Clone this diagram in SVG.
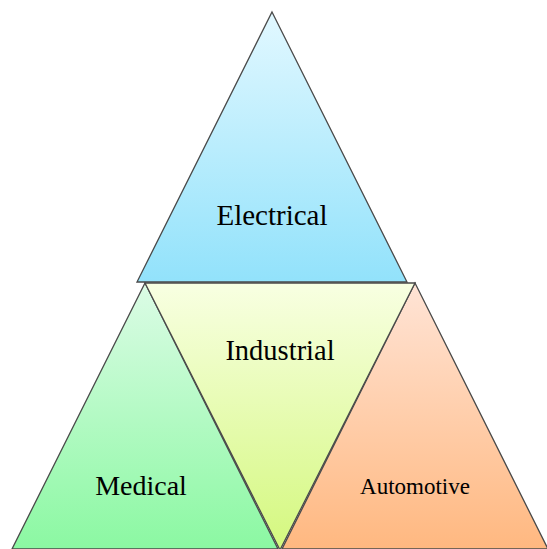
<svg xmlns="http://www.w3.org/2000/svg" width="547" height="549" viewBox="0 0 547 549">
<defs>
<linearGradient id="gE" x1="0" y1="0" x2="0" y2="1"><stop offset="0" stop-color="#e2f8ff"/><stop offset="1" stop-color="#92e2fb"/></linearGradient>
<linearGradient id="gM" x1="0" y1="0" x2="0" y2="1"><stop offset="0" stop-color="#dcfce6"/><stop offset="1" stop-color="#8bf8a2"/></linearGradient>
<linearGradient id="gI" x1="0" y1="0" x2="0" y2="1"><stop offset="0" stop-color="#f8ffe2"/><stop offset="1" stop-color="#d4f87e"/></linearGradient>
<linearGradient id="gA" x1="0" y1="0" x2="0" y2="1"><stop offset="0" stop-color="#ffe4d6"/><stop offset="1" stop-color="#ffb880"/></linearGradient>
</defs>
<style>
.tri{stroke:#4a4a4a;stroke-width:1.3;stroke-linejoin:miter}
.lbl{font-family:"Liberation Serif","Times New Roman",serif;fill:#000;text-anchor:middle}
</style>
<rect width="547" height="549" fill="#fff"/>
<g id="electrical">
<polygon class="tri" fill="url(#gE)" points="272,12 407,282 137,282"/>
<text class="lbl" x="272" y="225" font-size="29">Electrical</text>
</g>
<g id="medical">
<polygon class="tri" fill="url(#gM)" points="145,283 278,549 12,549"/>
<text class="lbl" x="141" y="495" font-size="28">Medical</text>
</g>
<g id="automotive">
<polygon class="tri" fill="url(#gA)" points="415,283 548,549 282,549"/>
<text class="lbl" x="415" y="494" font-size="23">Automotive</text>
</g>
<g id="industrial">
<polygon class="tri" fill="url(#gI)" points="145,283 415,283 280,550"/>
<text class="lbl" x="280" y="360" font-size="28.5">Industrial</text>
</g>
<g id="connectors"></g>
</svg>
